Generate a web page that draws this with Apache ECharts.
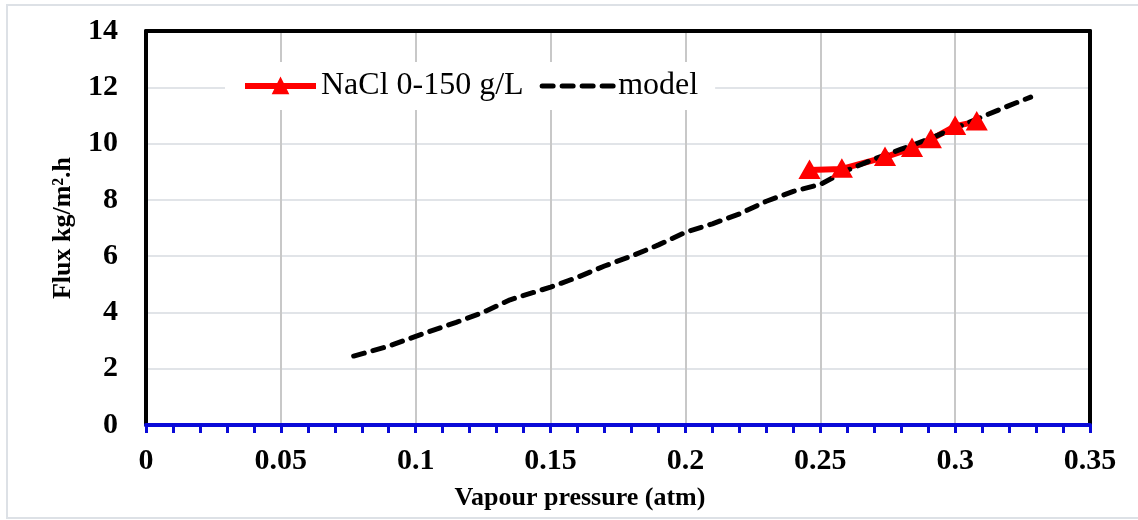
<!DOCTYPE HTML>
<html>
<head>
    <title>Flux vs vapour pressure</title>
    <meta http-equiv="Content-Type" content="text/html; charset=UTF-8"/>
    <script type="text/javascript" src="https://cdn.jsdelivr.net/npm/echarts@6/dist/echarts.min.js"></script>
    <style type="text/css">
        html, body { margin: 0; padding: 0; background: #fff; }
    </style>
</head>
<body>
<div id="main" style="width: 1138px; height: 520px;"></div>
</body>
</html>

<script type="text/javascript">
    var myChart = echarts.init(document.getElementById('main'));

    // NaCl 0-150 g/L measured points
    var naclPressure = [0.246, 0.258, 0.274, 0.284, 0.291, 0.300, 0.308];
    var naclFlux = [9.06, 9.10, 9.52, 9.84, 10.15, 10.62, 10.78];

    // model curve
    var modelPressure = [0.077, 0.09, 0.10, 0.115, 0.125, 0.135, 0.15, 0.16, 0.17, 0.18, 0.19, 0.20,
        0.21, 0.22, 0.23, 0.24, 0.25, 0.26, 0.27, 0.28, 0.29, 0.30, 0.31, 0.32, 0.328];
    var modelFlux = [2.45, 2.8, 3.15, 3.65, 4.0, 4.45, 4.9, 5.25, 5.65, 6.0, 6.4, 6.85,
        7.15, 7.5, 7.95, 8.3, 8.55, 9.05, 9.45, 9.8, 10.15, 10.55, 10.95, 11.35, 11.65];

    var serif = "'Liberation Serif', 'Times New Roman', serif";
    var blue = '#0a0ad8';

    function pairs(xs, ys) {
        var out = [];
        for (var i = 0; i < xs.length; i++) {
            out.push([xs[i], ys[i]]);
        }
        return out;
    }

    // frame axes (no labels) for the black box top / right
    var frameX = {
        type: 'value', position: 'top', min: 0, max: 0.35,
        axisLine: {show: true, onZero: false, lineStyle: {color: '#000', width: 4}},
        axisTick: {show: false}, axisLabel: {show: false}, splitLine: {show: false}
    };
    var frameY = {
        type: 'value', position: 'right', min: 0, max: 14,
        axisLine: {show: true, onZero: false, lineStyle: {color: '#000', width: 4}},
        axisTick: {show: false}, axisLabel: {show: false}, splitLine: {show: false}
    };

    var option = {
        animation: false,
        backgroundColor: '#fff',
        graphic: [{
            type: 'rect',
            shape: {x: 7, y: 5, width: 1135, height: 513},
            style: {fill: 'none', stroke: '#dde1e6', lineWidth: 2},
            silent: true
        }],
        grid: {
            left: 146,
            right: 48,
            top: 31,
            bottom: 95
        },
        legend: {
            z: 20,
            left: 225,
            top: 62,
            padding: [8, 17],
            backgroundColor: '#fff',
            itemWidth: 71,
            itemHeight: 18,
            itemGap: 16,
            textStyle: {fontFamily: serif, fontSize: 32, color: '#000'},
            data: [
                {name: 'NaCl 0-150 g/L', lineStyle: {width: 6}},
                {name: 'model', itemStyle: {opacity: 0}, lineStyle: {width: 5}}
            ]
        },
        xAxis: [{
            type: 'value',
            min: 0,
            max: 0.35,
            interval: 0.05,
            name: 'Vapour pressure (atm)',
            nameLocation: 'middle',
            nameGap: 60,
            nameTextStyle: {
                fontFamily: serif, fontSize: 26, fontWeight: 'bold', color: '#000',
                padding: [0, 76, 0, 0]
            },
            axisLine: {onZero: false, lineStyle: {color: blue, width: 4}},
            axisTick: {show: true, length: 8, lineStyle: {color: blue, width: 3}},
            minorTick: {show: true, splitNumber: 5, length: 8, lineStyle: {color: blue, width: 3}},
            axisLabel: {fontFamily: serif, fontSize: 30, fontWeight: 'bold', color: '#000', margin: 21},
            splitLine: {show: true, showMinLine: false, showMaxLine: false, lineStyle: {color: '#c8c8c8', width: 2}}
        }, frameX],
        yAxis: [{
            type: 'value',
            min: 0,
            max: 14,
            interval: 2,
            name: 'Flux kg/m².h',
            nameLocation: 'middle',
            nameGap: 70,
            nameTextStyle: {fontFamily: serif, fontSize: 26, fontWeight: 'bold', color: '#000'},
            axisLine: {show: true, onZero: false, lineStyle: {color: '#000', width: 4}},
            axisTick: {show: false},
            axisLabel: {fontFamily: serif, fontSize: 30, fontWeight: 'bold', color: '#000', margin: 28},
            splitLine: {show: true, showMinLine: false, showMaxLine: false, lineStyle: {color: '#e1e4e8', width: 2}}
        }, frameY],
        series: [{
            name: 'NaCl 0-150 g/L',
            type: 'line',
            data: pairs(naclPressure, naclFlux),
            symbol: 'triangle',
            symbolSize: [17, 15],
            lineStyle: {color: '#ff0000', width: 6},
            itemStyle: {color: '#ff0000', borderColor: '#ff0000', borderWidth: 3}
        }, {
            name: 'model',
            type: 'line',
            data: pairs(modelPressure, modelFlux),
            symbol: 'none',
            lineStyle: {color: '#000', width: 5, type: [11, 9], cap: 'round'},
            itemStyle: {color: '#000'}
        }]
    };
    myChart.setOption(option);
</script>
